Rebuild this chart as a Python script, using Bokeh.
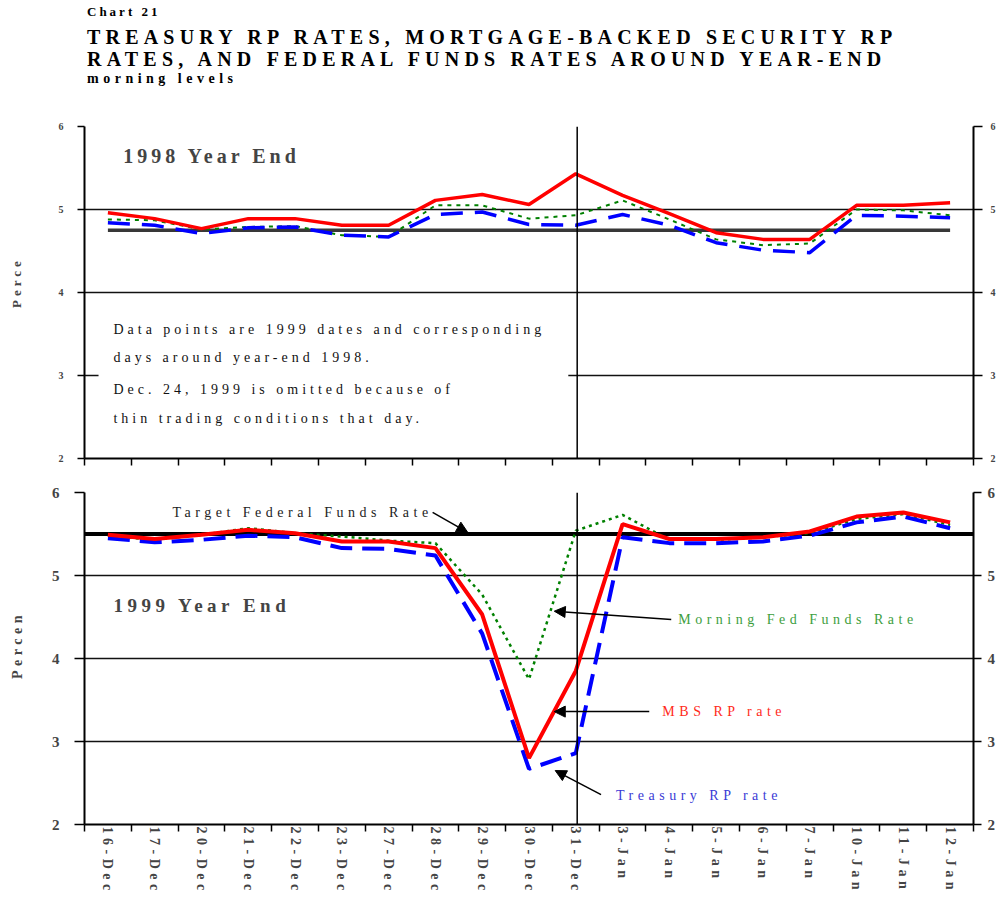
from bokeh.plotting import figure
from bokeh.models import (Div, FixedTicker, LinearAxis, Range1d, Span, Label,
                          Arrow, NormalHead, BoxAnnotation)
from bokeh.layouts import column
from bokeh.embed import file_html
from bokeh.resources import INLINE

# ---------------- data ----------------
dates = ["16-Dec", "17-Dec", "20-Dec", "21-Dec", "22-Dec", "23-Dec", "27-Dec",
         "28-Dec", "29-Dec", "30-Dec", "31-Dec", "3-Jan", "4-Jan", "5-Jan",
         "6-Jan", "7-Jan", "10-Jan", "11-Jan", "12-Jan"]

# 1998 year end (morning levels, percent)
mbs_1998 = [4.96, 4.89, 4.77, 4.89, 4.89, 4.81, 4.81, 5.11, 5.18, 5.06,
            5.43, 5.17, 4.95, 4.72, 4.64, 4.64, 5.05, 5.05, 5.08]
tsy_1998 = [4.84, 4.81, 4.71, 4.78, 4.79, 4.69, 4.67, 4.94, 4.97, 4.82,
            4.81, 4.94, 4.81, 4.60, 4.51, 4.48, 4.93, 4.92, 4.90]
ff_1998 = [4.88, 4.87, 4.76, 4.79, 4.80, 4.69, 4.67, 5.05, 5.05, 4.89,
           4.93, 5.11, 4.88, 4.64, 4.57, 4.59, 5.00, 4.99, 4.93]
target_1998 = [4.75, 4.75, 4.75, 4.75, 4.75, 4.75, 4.75, 4.75, 4.75, 4.75,
               4.75, 4.75, 4.75, 4.75, 4.75, 4.75, 4.75, 4.75, 4.75]

# 1999 year end
mbs_1999 = [5.49, 5.44, 5.49, 5.55, 5.51, 5.41, 5.41, 5.33, 4.53, 2.80,
            3.85, 5.62, 5.44, 5.44, 5.46, 5.53, 5.71, 5.76, 5.64]
tsy_1999 = [5.45, 5.40, 5.43, 5.48, 5.46, 5.33, 5.32, 5.24, 4.30, 2.67,
            2.86, 5.46, 5.39, 5.39, 5.41, 5.48, 5.64, 5.71, 5.57]
ff_1999 = [5.48, 5.43, 5.49, 5.57, 5.51, 5.47, 5.42, 5.39, 4.77, 3.75,
           5.54, 5.73, 5.43, 5.43, 5.46, 5.51, 5.68, 5.74, 5.61]
target_1999 = [5.50, 5.50, 5.50, 5.50, 5.50, 5.50, 5.50, 5.50, 5.50, 5.50,
               5.50, 5.50, 5.50, 5.50, 5.50, 5.50, 5.50, 5.50, 5.50]

y_ticks = [2, 3, 4, 5, 6]

chart_no = "Chart 21"
title_1 = "TREASURY RP RATES, MORTGAGE-BACKED SECURITY RP"
title_2 = "RATES, AND FEDERAL FUNDS RATES AROUND YEAR-END"
subtitle = "morning levels"
note_lines = ["Data points are 1999 dates and corresponding",
              "days around year-end 1998.",
              "Dec. 24, 1999 is omitted because of",
              "thin trading conditions that day."]

# ---------------- styling helpers ----------------
SERIF = "Liberation Serif"
idx = list(range(len(dates)))
bounds = [i - 0.5 for i in range(len(dates) + 1)]
n = len(dates)
FIG_W = 998
MB_L = 84
MB_R = 23


def base_fig(height, mbt, mbb, spacing, tick_font, ytick_out,
             ylab_standoff, ytick_standoff, rtick_out, rtick_standoff,
             ylabel, ylabel_size):
    p = figure(width=FIG_W, height=height, x_range=Range1d(-0.5, n - 0.5),
               y_range=Range1d(2, 6), output_backend="svg",
               toolbar_location=None, min_border_left=MB_L,
               min_border_right=MB_R, min_border_top=mbt,
               min_border_bottom=mbb, outline_line_color=None,
               background_fill_color="white", border_fill_color="white")
    p.styles = {"letter-spacing": spacing}
    p.xgrid.visible = False
    p.ygrid.ticker = FixedTicker(ticks=y_ticks)
    p.ygrid.grid_line_color = "#111111"
    p.ygrid.grid_line_width = 1.5

    yax = p.yaxis[0]
    yax.ticker = FixedTicker(ticks=y_ticks)
    yax.axis_line_width = 2
    yax.axis_line_color = "black"
    yax.major_tick_out = ytick_out
    yax.major_tick_in = 0
    yax.major_tick_line_width = 1.5
    yax.minor_tick_out = 0
    yax.minor_tick_in = 0
    yax.major_label_text_font = SERIF
    yax.major_label_text_font_style = "bold"
    yax.major_label_text_font_size = tick_font
    yax.major_label_standoff = ytick_standoff
    yax.axis_label = ylabel
    yax.axis_label_text_font = SERIF
    yax.axis_label_text_font_style = "bold"
    yax.axis_label_text_font_size = ylabel_size
    yax.axis_label_standoff = ylab_standoff

    rax = LinearAxis(ticker=FixedTicker(ticks=y_ticks))
    rax.axis_line_width = 2
    rax.axis_line_color = "black"
    rax.major_tick_out = rtick_out
    rax.major_tick_in = 0
    rax.major_tick_line_width = 1.5
    rax.minor_tick_out = 0
    rax.minor_tick_in = 0
    rax.major_label_text_font = SERIF
    rax.major_label_text_font_style = "bold"
    rax.major_label_text_font_size = tick_font
    rax.major_label_standoff = rtick_standoff
    p.add_layout(rax, "right")

    xax = p.xaxis[0]
    xax.axis_line_width = 2
    xax.axis_line_color = "black"
    xax.major_tick_out = 0
    xax.major_tick_in = 0
    xax.minor_tick_out = 7
    xax.minor_tick_in = 0
    xax.minor_tick_line_color = "black"
    xax.minor_tick_line_width = 1.5
    return p


# ---------------- title ----------------
title_html = (
    '<div style="position:relative;width:990px;height:92px;'
    "font-family:'Liberation Serif',serif;font-weight:bold;color:#000;\">"
    '<div style="position:absolute;left:82px;top:0px;font-size:13px;'
    'line-height:13px;letter-spacing:3px;white-space:nowrap;">' + chart_no + '</div>'
    '<div style="position:absolute;left:82px;top:22px;font-size:20px;'
    'line-height:20px;letter-spacing:5.2px;white-space:nowrap;">' + title_1 + '</div>'
    '<div style="position:absolute;left:82px;top:44px;font-size:20px;'
    'line-height:20px;letter-spacing:5.2px;white-space:nowrap;">' + title_2 + '</div>'
    '<div style="position:absolute;left:82px;top:67px;font-size:14px;'
    'line-height:14px;letter-spacing:4.5px;white-space:nowrap;">' + subtitle + '</div>'
    '</div>')
title_div = Div(text=title_html, width=990, height=92)

# ---------------- top panel: 1998 ----------------
p1 = base_fig(370, 24, 14, "4px", "10px", 7, 32, 14, 9, 8, "Perce", "13px")
p1.xaxis[0].ticker = FixedTicker(ticks=[], minor_ticks=bounds)
p1.xaxis[0].major_label_standoff = 0

p1.add_layout(Span(location=10.03, dimension="height", line_color="black",
                   line_width=1.5))
p1.add_layout(BoxAnnotation(left=-0.2, right=9.84, bottom=2.15, top=3.85,
                            fill_color="white", fill_alpha=1.0,
                            line_color=None))

p1.line(idx, target_1998, line_color="#383838", line_width=3.5)
p1.line(idx, ff_1998, line_color="#008000", line_width=2,
        line_dash="4 5")
p1.line(idx, tsy_1998, line_color="#0000ff", line_width=3.5,
        line_dash="22 12")
p1.line(idx, mbs_1998, line_color="#ff0000", line_width=3.5)

p1.add_layout(Label(x=0.33, y=5.64, text="1998 Year End", text_font=SERIF,
                    text_font_style="bold", text_font_size="20px",
                    text_baseline="middle", text_align="left"))
for line_text, yy in zip(note_lines, [3.554, 3.217, 2.831, 2.482]):
    p1.add_layout(Label(x=0.118, y=yy, text=line_text, text_font=SERIF,
                        text_font_size="14px", text_color="#111111",
                        text_baseline="middle", text_align="left"))

# ---------------- bottom panel: 1999 ----------------
p2 = base_fig(423, 20, 71, "4.5px", "15px", 10, 24, 15, 8, 6, "Percen",
              "14px")
xb = p2.xaxis[0]
xb.ticker = FixedTicker(ticks=idx, minor_ticks=bounds)
xb.major_label_overrides = {i: d for i, d in zip(idx, dates)}
xb.major_label_orientation = "vertical"
xb.major_label_text_font = SERIF
xb.major_label_text_font_style = "bold"
xb.major_label_text_font_size = "14px"
xb.major_label_standoff = -5

p2.add_layout(Span(location=10.03, dimension="height", line_color="black",
                   line_width=1.5))
# target federal funds rate drawn across the whole panel
p2.add_layout(Span(location=target_1999[0], dimension="width",
                   line_color="black", line_width=4, level="underlay"))

p2.line(idx, ff_1999, line_color="#008000", line_width=2.5,
        line_dash="3 4")
p2.line(idx, tsy_1999, line_color="#0000ff", line_width=4,
        line_dash="22 10")
p2.line(idx, mbs_1999, line_color="#ff0000", line_width=4)

p2.add_layout(Label(x=1.38, y=5.765, text="Target Federal Funds Rate",
                    text_font=SERIF, text_font_size="14px",
                    text_color="#222222", text_baseline="middle",
                    text_align="left"))
p2.add_layout(Label(x=0.12, y=4.64, text="1999 Year End", text_font=SERIF,
                    text_font_style="bold", text_font_size="19px",
                    text_baseline="middle", text_align="left"))
p2.add_layout(Label(x=12.19, y=4.47, text="Morning Fed Funds Rate",
                    text_font=SERIF, text_font_size="14px",
                    text_color="#3d9e3d", text_baseline="middle",
                    text_align="left"))
p2.add_layout(Label(x=11.85, y=3.36, text="MBS RP rate", text_font=SERIF,
                    text_font_size="14px", text_color="#ff2a1a",
                    text_baseline="middle", text_align="left"))
p2.add_layout(Label(x=10.86, y=2.35, text="Treasury RP rate", text_font=SERIF,
                    text_font_size="14px", text_color="#3a3ad6",
                    text_baseline="middle", text_align="left"))


def arrow(x0, y0, x1, y1):
    return Arrow(end=NormalHead(size=11, fill_color="black",
                                line_color="black"),
                 x_start=x0, y_start=y0, x_end=x1, y_end=y1,
                 line_color="black", line_width=1.5)


p2.add_layout(arrow(6.94, 5.76, 7.69, 5.52))
p2.add_layout(arrow(12.04, 4.47, 9.54, 4.57))
p2.add_layout(arrow(11.57, 3.36, 9.54, 3.36))
p2.add_layout(arrow(10.54, 2.36, 9.56, 2.65))

layout = column(title_div, p1, p2, spacing=0)

open("out.html", "w").write(file_html(layout, INLINE))
